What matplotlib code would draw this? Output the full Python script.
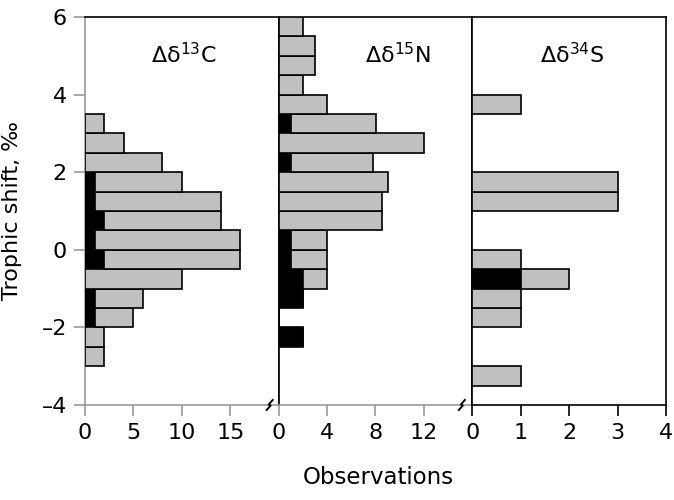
import matplotlib
matplotlib.use("Agg")
import matplotlib.pyplot as plt
from matplotlib.transforms import blended_transform_factory

plt.rcParams['font.family'] = ['DejaVu Sans']
plt.rcParams['mathtext.fontset'] = 'dejavusans'

# ---- data ----
bin_width = 0.5

c_bins = [-3.0, -2.5, -2.0, -1.5, -1.0, -0.5, 0.0, 0.5, 1.0, 1.5, 2.0, 2.5, 3.0]
c_total = [2, 2, 5, 6, 10, 16, 16, 14, 14, 10, 8, 4, 2]
c_black = [0, 0, 1, 1, 0, 2, 1, 2, 1, 1, 0, 0, 0]

n_bins = [-2.5, -2.0, -1.5, -1.0, -0.5, 0.0, 0.5, 1.0, 1.5, 2.0, 2.5, 3.0, 3.5, 4.0, 4.5, 5.0, 5.5]
n_total = [2, 0, 2, 4, 4, 4, 8.5, 8.5, 9, 7.8, 12, 8, 4, 2, 3, 3, 2]
n_black = [2, 0, 2, 2, 1, 1, 0, 0, 0, 1, 0, 1, 0, 0, 0, 0, 0]

s_bins = [-3.5, -2.0, -1.5, -1.0, -0.5, 1.0, 1.5, 3.5]
s_total = [1, 1, 1, 2, 1, 3, 3, 1]
s_black = [0, 0, 0, 1, 0, 0, 0, 0]

titles = ['Δδ$^{13}$C', 'Δδ$^{15}$N', 'Δδ$^{34}$S']
title_x = [0.51, 0.615, 0.518]
xlims = [20, 16, 4]
xticks = [[0, 5, 10, 15], [0, 4, 8, 12], [0, 1, 2, 3, 4]]
yticks = [-4, -2, 0, 2, 4, 6]

panels = [(c_bins, c_total, c_black), (n_bins, n_total, n_black), (s_bins, s_total, s_black)]

W, H = 674, 500
fig = plt.figure(figsize=(W / 100, H / 100), dpi=100)
left_px, right_px, top_px, bot_px = 85, 666, 17, 405
pw = (right_px - left_px) / 3.0

GRAY_AX = '#999999'
BAR_GRAY = '#c0c0c0'
FS = 16

axes = []
for i, (bins, tot, blk) in enumerate(panels):
    ax = fig.add_axes([(left_px + i * pw) / W, 1 - bot_px / H, pw / W, (bot_px - top_px) / H])
    axes.append(ax)
    gray_w = [t - b for t, b in zip(tot, blk)]
    ax.barh(bins, blk, height=bin_width, align='edge', color='black',
            edgecolor='black', linewidth=1.2, zorder=3)
    ax.barh(bins, gray_w, left=blk, height=bin_width, align='edge', color=BAR_GRAY,
            edgecolor='black', linewidth=1.2, zorder=3)
    ax.set_xlim(0, xlims[i])
    ax.set_ylim(-4, 6)
    ax.set_xticks(xticks[i])
    ax.set_xticklabels([str(v) for v in xticks[i]], fontsize=FS)
    ax.tick_params(axis='x', direction='out', length=8, width=1.2, pad=5)
    for sp in ax.spines.values():
        sp.set_linewidth(1.2)
        sp.set_color('black')
    if i < 2:
        ax.spines['bottom'].set_color(GRAY_AX)
        ax.tick_params(axis='x', color=GRAY_AX)
    if i == 0:
        ax.spines['left'].set_color(GRAY_AX)
        ax.set_yticks(yticks)
        ax.set_yticklabels([str(v) if v >= 0 else '\u2013' + str(-v) for v in yticks], fontsize=FS)
        ax.tick_params(axis='y', direction='out', length=8, width=1.2, color=GRAY_AX, pad=5)
        ax.set_ylabel('Trophic shift, ‰', fontsize=FS)
        ax.yaxis.set_label_coords((22 - left_px) / pw, 0.5)
    else:
        ax.set_yticks([])
    tr = blended_transform_factory(ax.transAxes, ax.transData)
    ax.text(title_x[i], 4.8, titles[i], transform=tr, ha='center', va='baseline', fontsize=FS)

# axis break marks on the bottom axis of first two panels
for i, off_px in [(0, 9.0), (1, 10.5)]:
    ax = axes[i]
    xc = 1 - off_px / pw
    dx = 1.0 / pw
    dy = 1.0 / (bot_px - top_px)
    xs = [xc - 3.0 * dx, xc + 1.0 * dx, xc - 1.0 * dx, xc + 3.0 * dx]
    ys = [-5 * dy, -0.5 * dy, 0.5 * dy, 5 * dy]
    ax.plot(xs, ys, color='black', lw=1.4, transform=ax.transAxes, clip_on=False, zorder=5)

fig.text(378 / W, 1 - 478 / H, 'Observations', ha='center', va='center', fontsize=16.5)

fig.savefig('out.png', dpi=100)
